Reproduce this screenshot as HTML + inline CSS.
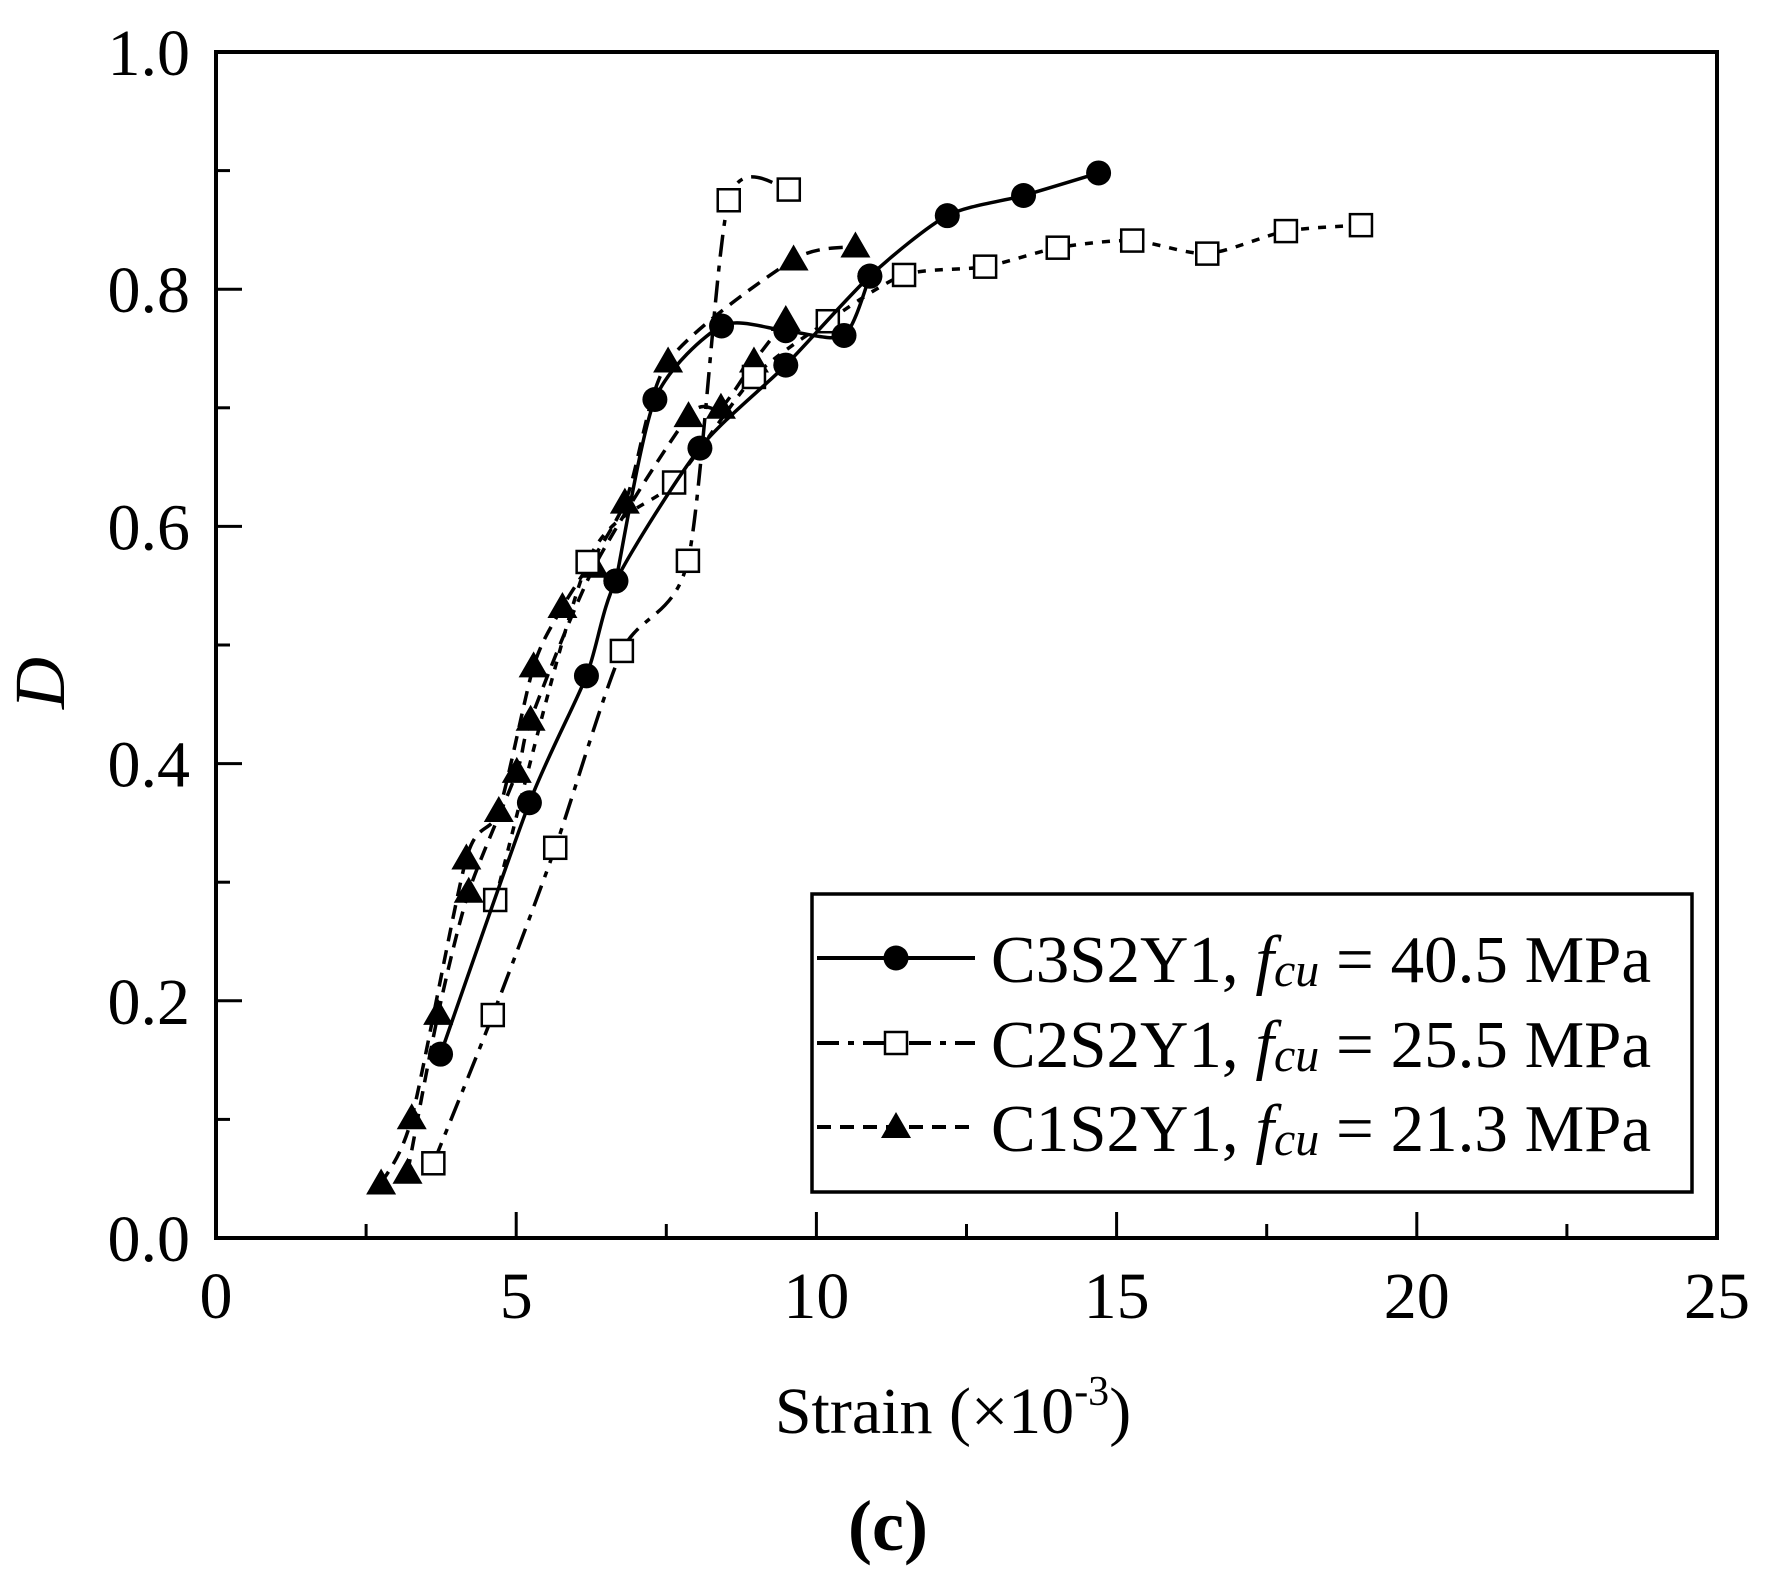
<!DOCTYPE html>
<html><head><meta charset="utf-8"><style>
html,body{margin:0;padding:0;background:#fff}
svg{display:block}
text{font-family:"Liberation Serif",serif;fill:#000}
</style></head><body>
<svg id="chart" width="1775" height="1582" viewBox="0 0 1775 1582" xmlns="http://www.w3.org/2000/svg">
<g id="axes"></g>
<g id="series"></g>
<g id="legend"></g>
</svg>
<script>
const xTicks=[0,5,10,15,20,25];
const yTicks=[0.0,0.2,0.4,0.6,0.8,1.0];
const yTickLabels=["0.0","0.2","0.4","0.6","0.8","1.0"];
// C3S2Y1 (circles, solid)
const c3BranchAx=[3.74,5.22,6.17,6.66,8.06,9.49,10.89,12.18,13.45,14.7];
const c3BranchAy=[0.155,0.367,0.474,0.554,0.666,0.736,0.811,0.862,0.879,0.898];
const c3BranchBx=[6.66,7.31,8.42,9.49,10.46,10.89];
const c3BranchBy=[0.554,0.707,0.769,0.765,0.761,0.811];
// C2S2Y1 (squares)
const c2BranchAx=[3.62,4.61,5.65,6.76,7.86,8.54,9.54];
const c2BranchAy=[0.063,0.188,0.329,0.495,0.571,0.875,0.884];
const c2BranchBx=[4.65,6.19,7.63,8.96,10.19,11.46,12.81,14.02,15.26,16.51,17.82,19.07];
const c2BranchBy=[0.285,0.570,0.637,0.726,0.773,0.812,0.819,0.835,0.841,0.830,0.849,0.854];
// C1S2Y1 (triangles, dashed)
const c1BranchAx=[2.75,3.26,4.17,4.71,5.29,5.77,6.81,7.53,9.62,10.65];
const c1BranchAy=[0.046,0.101,0.320,0.360,0.482,0.532,0.620,0.739,0.825,0.836];
const c1BranchBx=[3.19,3.70,4.21,5.01,5.24,6.30,7.87,8.41,8.96,9.49];
const c1BranchBy=[0.055,0.189,0.292,0.393,0.437,0.566,0.693,0.700,0.739,0.774];

const NS="http://www.w3.org/2000/svg";
const L=216,R=1717,T=52,B=1238;
const X=v=>L+(v/25)*(R-L);
const Y=v=>B-v*(B-T);
function mk(tag,parent,attrs){const e=document.createElementNS(NS,tag);for(const k in attrs)e.setAttribute(k,attrs[k]);parent.appendChild(e);return e;}
const axes=document.getElementById('axes');
const frame=mk('rect',axes,{x:L,y:T,width:R-L,height:B-T,fill:'none',stroke:'#000','stroke-width':4});


for(let i=0;i<=10;i++){
  const v=i*2.5,maj=i%2===0;
  const t=mk('line',axes,{x1:X(v),x2:X(v),y1:B,y2:B-(maj?26:14),stroke:'#000','stroke-width':3});
  
  
}
xTicks.forEach(v=>{
  const t=mk('text',axes,{x:X(v),y:1318,'font-size':66,'text-anchor':'middle'});t.textContent=v;
  
  
});
for(let i=0;i<=10;i++){
  const v=i*0.1,maj=i%2===0;
  const t=mk('line',axes,{x1:L,x2:L+(maj?26:14),y1:Y(v),y2:Y(v),stroke:'#000','stroke-width':3});
  
  
}
yTicks.forEach((v,i)=>{
  const t=mk('text',axes,{x:190,y:Y(v)+23,'font-size':66,'text-anchor':'end'});t.textContent=yTickLabels[i];
  
  
});
const xt=mk('text',axes,{x:953,y:1433,'font-size':66,'text-anchor':'middle'});
xt.innerHTML='Strain (×10<tspan dy="-28" font-size="42">-3</tspan><tspan dy="28">)</tspan>';


const yt=mk('text',axes,{x:0,y:0,'font-size':72,'font-style':'italic','text-anchor':'middle',transform:'translate(64,683) rotate(-90)'});yt.textContent='D';


const cap=mk('text',axes,{x:888,y:1550,'font-size':72,'font-weight':'bold','text-anchor':'middle'});cap.textContent='(c)';



function smooth(xs,ys){
  const p=xs.map((x,i)=>[X(x),Y(ys[i])]);
  let d='M'+p[0][0]+','+p[0][1];
  for(let i=0;i<p.length-1;i++){
    const p0=p[Math.max(0,i-1)],p1=p[i],p2=p[i+1],p3=p[Math.min(p.length-1,i+2)];
    const k=8;
    const c1=[p1[0]+(p2[0]-p0[0])/k,p1[1]+(p2[1]-p0[1])/k],c2=[p2[0]-(p3[0]-p1[0])/k,p2[1]-(p3[1]-p1[1])/k];
    d+=' C'+c1+' '+c2+' '+p2;
  }
  return d;
}
const S=document.getElementById('series');
const styles={c3:{dash:'none',marker:'circle'},c2:{dash:'22,9,6,9',marker:'square'},c1:{dash:'14,9',marker:'triangle'}};
function marker(parent,type,cx,cy,name){
  let m;
  if(type==='circle')m=mk('circle',parent,{cx:cx,cy:cy,r:12.5,fill:'#000'});
  else if(type==='square')m=mk('rect',parent,{x:cx-11,y:cy-11,width:22,height:22,fill:'#fff',stroke:'#000','stroke-width':2.5});
  else m=mk('polygon',parent,{points:`${cx},${cy-15} ${cx+15},${cy+11} ${cx-15},${cy+11}`,fill:'#000'});
  
  
}
function drawSeries(key,branches,dashB){
  const g=mk('g',S,{});
  
  
  branches.forEach((b,bi)=>{
    const dash=bi===1&&dashB?dashB:styles[key].dash;
    const p=mk('path',g,{d:smooth(b[0],b[1]),fill:'none',stroke:'#000','stroke-width':3.5,'stroke-dasharray':dash});
    
    
  });
  branches.forEach(b=>b[0].forEach((x,i)=>marker(g,styles[key].marker,X(x),Y(b[1][i]),key+'-point')));
}
drawSeries('c1',[[c1BranchAx,c1BranchAy],[c1BranchBx,c1BranchBy]]);
drawSeries('c2',[[c2BranchAx,c2BranchAy],[c2BranchBx,c2BranchBy]],'8,9');
drawSeries('c3',[[c3BranchAx,c3BranchAy],[c3BranchBx,c3BranchBy]]);

const lg=document.getElementById('legend');
const box=mk('rect',lg,{x:812,y:894,width:880,height:298,fill:'#fff',stroke:'#000','stroke-width':3.5});


const entries=[['c3','C3S2Y1, ','40.5',958],['c2','C2S2Y1, ','25.5',1043],['c1','C1S2Y1, ','21.3',1127]];
entries.forEach(e=>{
  const g=mk('g',lg,{});
  
  
  mk('line',g,{x1:817,x2:975,y1:e[3],y2:e[3],stroke:'#000','stroke-width':4,'stroke-dasharray':styles[e[0]].dash});
  marker(g,styles[e[0]].marker,896,e[3],'legend-marker');
  const t=mk('text',g,{x:991,y:e[3]+24,'font-size':67});
  t.innerHTML=e[1]+'<tspan font-style="italic">f<tspan font-size="48" dy="4">cu</tspan></tspan><tspan dy="-4"> = '+e[2]+' MPa</tspan>';
  
  
});
</script>
</body></html>
